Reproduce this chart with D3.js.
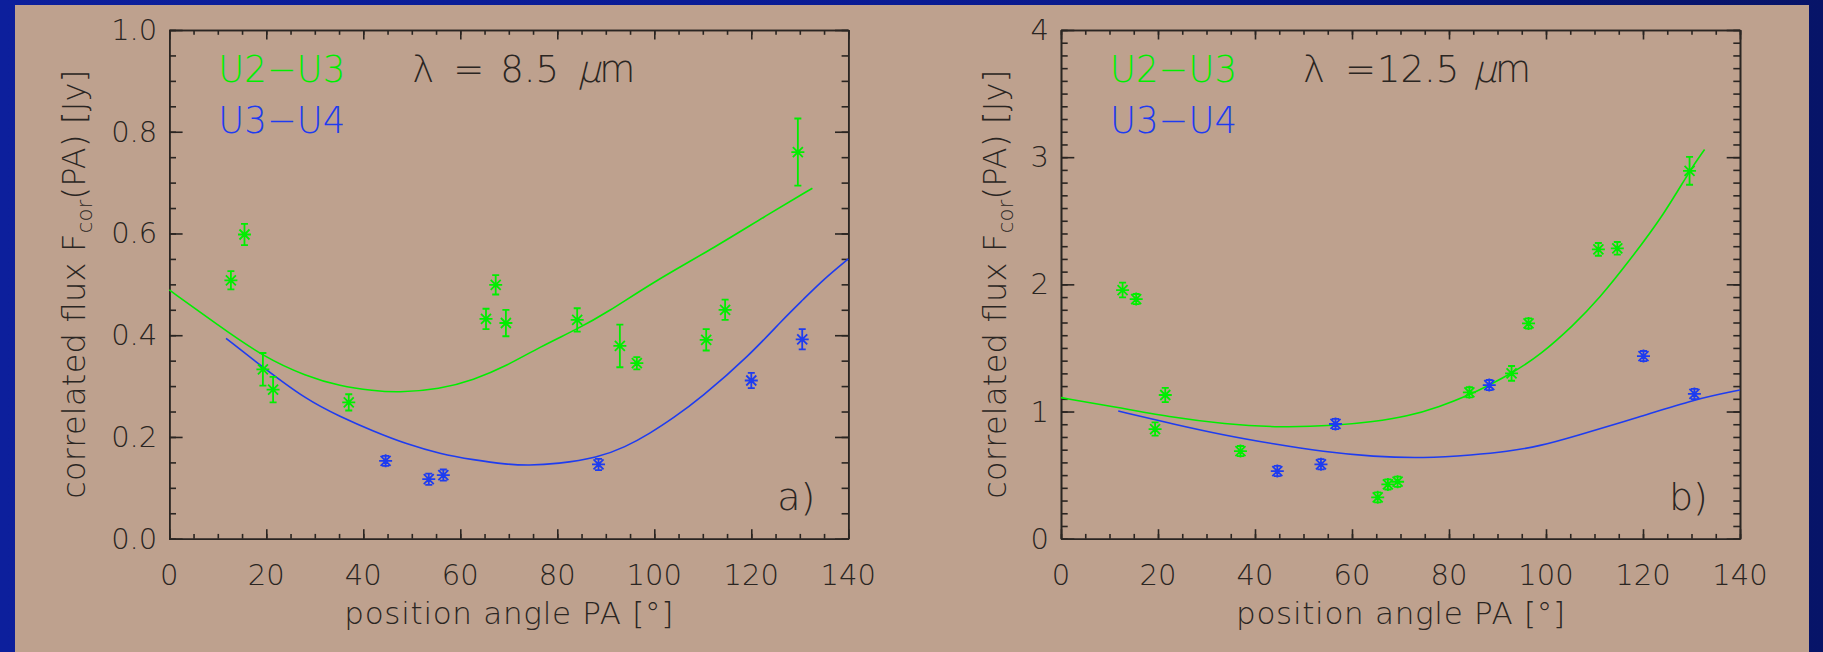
<!DOCTYPE html>
<html>
<head>
<meta charset="utf-8">
<script src="https://cdn.jsdelivr.net/npm/d3@7"></script>
<style>
  html, body { margin: 0; padding: 0; background: #0a1a90; }
  svg { display: block; }
  text { font-family: 'DejaVu Sans', 'Liberation Sans', sans-serif; font-weight: 200; fill: #2a2522; }
  .axis line, .axis path { stroke: #2a2522; stroke-width: 1.6; }
</style>
</head>
<body>
<div id="chart"></div>
<script>
// ---- panel a: lambda = 8.5 micron ----
const paA_U23 = [12.7, 15.5, 19.3, 21.4, 37.0, 65.3, 67.3, 69.4, 84.1, 92.9, 96.4, 110.7, 114.6, 129.6];
const fluxA_U23 = [0.508, 0.598, 0.333, 0.293, 0.268, 0.432, 0.499, 0.424, 0.430, 0.379, 0.345, 0.391, 0.450, 0.760];
const errA_U23 = [0.018, 0.021, 0.032, 0.025, 0.016, 0.020, 0.019, 0.026, 0.023, 0.042, 0.012, 0.021, 0.020, 0.066];
const paA_U34 = [44.6, 53.5, 56.5, 88.5, 120.0, 130.5];
const fluxA_U34 = [0.153, 0.117, 0.125, 0.146, 0.311, 0.392];
const errA_U34 = [0.010, 0.011, 0.011, 0.011, 0.015, 0.020];
// model curves
const fitPaA_U23 = [0, 10, 19.3, 28.3, 35.2, 42.1, 47, 55.8, 62.7, 69.6, 76.4, 84.1, 90.2, 100, 112.9, 122.5, 132.6];
const fitA_U23 = [0.489, 0.420, 0.358, 0.319, 0.300, 0.291, 0.287, 0.294, 0.312, 0.340, 0.377, 0.412, 0.444, 0.506, 0.575, 0.632, 0.689];
const fitPaA_U34 = [11.7, 19.3, 28.3, 35.2, 42.1, 48.9, 55.8, 62.7, 69.6, 74, 80, 88.3, 94, 99.1, 104, 109.4, 119.7, 126.6, 130.7, 134.8, 140];
const fitA_U34 = [0.394, 0.337, 0.273, 0.240, 0.211, 0.186, 0.167, 0.155, 0.146, 0.144, 0.147, 0.159, 0.180, 0.207, 0.238, 0.275, 0.361, 0.432, 0.470, 0.509, 0.550];

// ---- panel b: lambda = 12.5 micron ----
const paB_U23 = [12.7, 15.5, 19.4, 21.5, 37.0, 65.3, 67.4, 69.4, 84.2, 92.9, 96.4, 110.8, 114.7, 129.6];
const fluxB_U23 = [1.955, 1.884, 0.862, 1.130, 0.689, 0.325, 0.427, 0.448, 1.151, 1.300, 1.693, 2.275, 2.283, 2.893];
const errB_U23 = [0.058, 0.040, 0.052, 0.056, 0.040, 0.040, 0.040, 0.040, 0.040, 0.058, 0.040, 0.050, 0.050, 0.110];
const paB_U34 = [44.6, 53.6, 56.6, 88.3, 120.1, 130.6];
const fluxB_U34 = [0.532, 0.585, 0.902, 1.208, 1.436, 1.138];
const errB_U34 = [0.040, 0.040, 0.040, 0.040, 0.040, 0.040];
const fitPaB_U23 = [0, 12.8, 23.1, 33.5, 45.2, 56.6, 64.4, 71.3, 78.1, 84.2, 88.3, 92.9, 98.8, 105.7, 110.8, 117.5, 124.5, 129.6, 132.7];
const fitB_U23 = [1.109, 1.025, 0.954, 0.902, 0.873, 0.889, 0.920, 0.960, 1.038, 1.130, 1.208, 1.300, 1.444, 1.680, 1.880, 2.200, 2.560, 2.893, 3.060];
const fitPaB_U34 = [11.8, 23.1, 33.5, 43.8, 54.1, 64.4, 74.7, 85, 91.9, 98.8, 105.6, 119.4, 130.6, 140];
const fitB_U34 = [1.004, 0.902, 0.815, 0.745, 0.684, 0.645, 0.632, 0.658, 0.684, 0.729, 0.802, 0.959, 1.096, 1.169];

const xTicks = [0, 20, 40, 60, 80, 100, 120, 140];
const yTicksA = [0.0, 0.2, 0.4, 0.6, 0.8, 1.0];
const yTicksB = [0, 1, 2, 3, 4];
const baselines = ['U2\u2212U3', 'U3\u2212U4'];
const colors = ['#00ee00', '#1e3cf0'];

const W = 1823, H = 652;
const svg = d3.select('#chart').append('svg').attr('width', W).attr('height', H);

const defs = svg.append('defs');
const grad = defs.append('linearGradient').attr('id', 'bg').attr('x1', 0).attr('x2', 1).attr('y1', 0).attr('y2', 0);
grad.append('stop').attr('offset', '0%').attr('stop-color', '#0c1f9c');
grad.append('stop').attr('offset', '50%').attr('stop-color', '#0a1b94');
grad.append('stop').attr('offset', '100%').attr('stop-color', '#071468');
svg.append('rect').attr('width', W).attr('height', H).attr('fill', 'url(#bg)');
svg.append('rect').attr('x', 15).attr('y', 5).attr('width', 1794).attr('height', H - 5).attr('fill', '#bea18e');

function panel(opt) {
  const left = opt.left, right = opt.left + 679, top = 30, bottom = 538.7;
  const x = d3.scaleLinear().domain([0, 140]).range([left, right]);
  const y = d3.scaleLinear().domain(opt.yDomain).range([bottom, top]);
  const g = svg.append('g');
  const xMinor = d3.range(0, 141, 5);
  const yMinor = d3.range(opt.yDomain[0], opt.yDomain[1] + 1e-9, opt.yMinorStep);

  // ticks on all four sides, pointing inward
  const axes = [
    [d3.axisBottom, x, `translate(0,${bottom})`, 9.5, 4.8, xMinor, xTicks],
    [d3.axisTop, x, `translate(0,${top})`, 9.5, 4.8, xMinor, xTicks],
    [d3.axisLeft, y, `translate(${left},0)`, 13.3, 6.7, yMinor, opt.yTicks],
    [d3.axisRight, y, `translate(${right},0)`, 13.3, 6.7, yMinor, opt.yTicks]
  ];
  axes.forEach(function (a) {
    g.append('g').attr('class', 'axis').attr('transform', a[2])
      .call(a[0](a[1]).tickValues(a[5]).tickFormat('').tickSize(-a[4]).tickSizeOuter(0));
    g.append('g').attr('class', 'axis').attr('transform', a[2])
      .call(a[0](a[1]).tickValues(a[6]).tickFormat('').tickSize(-a[3]).tickSizeOuter(0));
  });

  // tick labels
  g.selectAll('.xl').data(xTicks).enter().append('text')
    .attr('x', d => x(d)).attr('y', 585).attr('text-anchor', 'middle')
    .style('font-size', '29px').text(d => d);
  g.selectAll('.yl').data(opt.yTicks).enter().append('text')
    .attr('x', left - 12).attr('y', d => y(d) + 10).attr('text-anchor', 'end')
    .style('font-size', '29px').text(opt.yFormat);

  // axis titles
  g.append('text').attr('x', (left + right) / 2).attr('y', 624).attr('text-anchor', 'middle')
    .attr('textLength', 329).attr('lengthAdjust', 'spacing')
    .style('font-size', '31px').text('position angle PA [\u00b0]');
  const yt = g.append('text')
    .attr('transform', `translate(${left - opt.yTitleOff},${(top + bottom) / 2}) rotate(-90)`)
    .attr('text-anchor', 'middle').attr('textLength', 429).attr('lengthAdjust', 'spacing')
    .style('font-size', '32px');
  yt.append('tspan').text('correlated flux F');
  yt.append('tspan').attr('dy', 7).style('font-size', '21px').text('cor');
  yt.append('tspan').attr('dy', -7).text('(PA) [Jy]');

  // legend and wavelength
  baselines.forEach(function (b, i) {
    g.append('text').attr('x', left + 49).attr('y', 82 + 51 * i)
      .attr('textLength', 127).attr('lengthAdjust', 'spacingAndGlyphs')
      .style('font-size', '37px').style('fill', colors[i]).text(b);
  });
  opt.lambda.forEach(function (p) {
    g.append('text').attr('transform', `translate(${left + p[0]},82)` + (p[2] ? ' skewX(-14)' : ''))
      .style('font-size', '37px').text(p[1]);
  });
  g.append('text').attr('x', right - 71).attr('y', 510).style('font-size', '38px').text(opt.tag);

  // model curves
  const line = d3.line().x(d => x(d[0])).y(d => y(d[1])).curve(d3.curveBasis);
  opt.fits.forEach(function (f, i) {
    g.append('path').datum(d3.zip(f[0], f[1])).attr('d', line)
      .attr('fill', 'none').attr('stroke', colors[i]).attr('stroke-width', 1.6);
  });

  // measurements: error bars and asterisks
  opt.points.forEach(function (s, i) {
    const pts = d3.zip(s[0], s[1], s[2]);
    const pg = g.append('g').attr('stroke', colors[i]).attr('stroke-width', 1.8).attr('fill', 'none');
    pts.forEach(function (p) {
      const cx = x(p[0]), cy = y(p[1]);
      const y0 = y(p[1] - p[2]), y1 = y(p[1] + p[2]);
      pg.append('path').attr('d',
        `M${cx},${y0}V${y1}M${cx - 3.5},${y0}H${cx + 3.5}M${cx - 3.5},${y1}H${cx + 3.5}` +
        `M${cx - 6.5},${cy}H${cx + 6.5}M${cx},${cy - 6.5}V${cy + 6.5}` +
        `M${cx - 5},${cy - 5}L${cx + 5},${cy + 5}M${cx - 5},${cy + 5}L${cx + 5},${cy - 5}`);
    });
  });
}

panel({
  left: 169.3, yDomain: [0, 1], yTicks: yTicksA, yMinorStep: 0.05, yFormat: d3.format('.1f'),
  yTitleOff: 84, tag: 'a)',
  lambda: [[243, '\u03bb'], [284, '='], [331, '8.5'], [408, '\u03bc', true], [430, 'm']],
  fits: [[fitPaA_U23, fitA_U23], [fitPaA_U34, fitA_U34]],
  points: [[paA_U23, fluxA_U23, errA_U23], [paA_U34, fluxA_U34, errA_U34]]
});
panel({
  left: 1061, yDomain: [0, 4], yTicks: yTicksB, yMinorStep: 0.1, yFormat: d3.format('d'),
  yTitleOff: 55, tag: 'b)',
  lambda: [[242, '\u03bb'], [284, '='], [316, '12.5'], [412, '\u03bc', true], [434, 'm']],
  fits: [[fitPaB_U23, fitB_U23], [fitPaB_U34, fitB_U34]],
  points: [[paB_U23, fluxB_U23, errB_U23], [paB_U34, fluxB_U34, errB_U34]]
});
</script>
</body>
</html>
